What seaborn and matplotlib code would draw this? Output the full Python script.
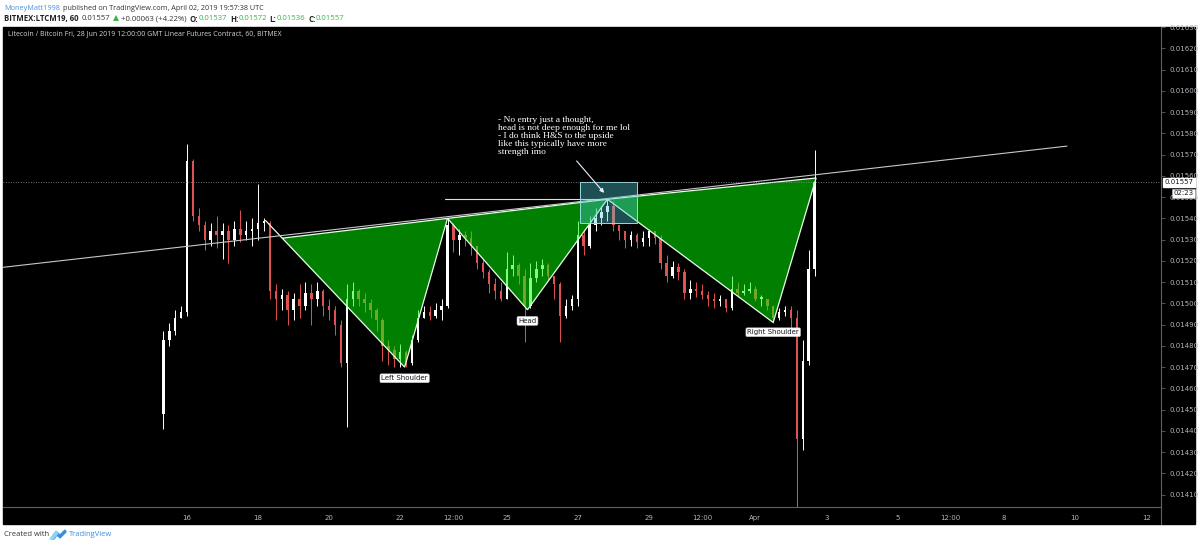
import numpy as np
import pandas as pd
import matplotlib
matplotlib.use("Agg")
import matplotlib.pyplot as plt
import matplotlib.dates as mdates
from matplotlib.patches import Polygon, Rectangle
from matplotlib.lines import Line2D
from matplotlib.transforms import IdentityTransform
import seaborn as sns

# LTCM19 (BitMEX), 4h candles
start_time = "2019-03-15 08:00"
first_open = 0.01448
closes = [0.01483, 0.01487, 0.01493, 0.01496, 0.01567, 0.01541, 0.01537, 0.01530, 0.01534, 0.01532,
          0.01534, 0.01530, 0.01535, 0.01532, 0.01534, 0.01535, 0.01538, 0.01538, 0.01506, 0.01502,
          0.01504, 0.01497, 0.01502, 0.01499, 0.01505, 0.01502, 0.01506, 0.01499, 0.01497, 0.01490,
          0.01472, 0.01502, 0.01506, 0.01502, 0.01500, 0.01497, 0.01492, 0.01480, 0.01478, 0.01474,
          0.01477, 0.01472, 0.01483, 0.01493, 0.01496, 0.01494, 0.01497, 0.01499, 0.01537, 0.01530,
          0.01532, 0.01531, 0.01527, 0.01519, 0.01515, 0.01509, 0.01506, 0.01502, 0.01516, 0.01518,
          0.01513, 0.01499, 0.01512, 0.01516, 0.01518, 0.01513, 0.01509, 0.01494, 0.01499, 0.01502,
          0.01532, 0.01527, 0.01537, 0.01540, 0.01543, 0.01546, 0.01537, 0.01534, 0.01530, 0.01532,
          0.01529, 0.01531, 0.01534, 0.01531, 0.01519, 0.01513, 0.01517, 0.01515, 0.01505, 0.01507,
          0.01506, 0.01504, 0.01502, 0.01501, 0.01502, 0.01498, 0.01507, 0.01505, 0.01506, 0.01507,
          0.01502, 0.01502, 0.01499, 0.01493, 0.01496, 0.01497, 0.01493, 0.01436, 0.01473, 0.01516,
          0.01557]
highs = [0.01487, 0.01491, 0.01497, 0.01499, 0.01575, 0.01568, 0.01545, 0.01539, 0.01538, 0.01541,
         0.01538, 0.01537, 0.01539, 0.01544, 0.01539, 0.01540, 0.01556, 0.01540, 0.01539, 0.01509,
         0.01507, 0.01506, 0.01505, 0.01509, 0.01510, 0.01509, 0.01510, 0.01507, 0.01502, 0.01499,
         0.01492, 0.01509, 0.01510, 0.01507, 0.01505, 0.01502, 0.01498, 0.01493, 0.01483, 0.01480,
         0.01481, 0.01478, 0.01485, 0.01497, 0.01499, 0.01499, 0.01500, 0.01502, 0.01540, 0.01538,
         0.01535, 0.01534, 0.01534, 0.01527, 0.01521, 0.01516, 0.01512, 0.01510, 0.01524, 0.01523,
         0.01519, 0.01516, 0.01519, 0.01520, 0.01521, 0.01519, 0.01513, 0.01510, 0.01502, 0.01504,
         0.01539, 0.01535, 0.01541, 0.01545, 0.01546, 0.01549, 0.01548, 0.01537, 0.01534, 0.01534,
         0.01533, 0.01534, 0.01535, 0.01534, 0.01532, 0.01523, 0.01520, 0.01519, 0.01516, 0.01511,
         0.01510, 0.01509, 0.01506, 0.01505, 0.01504, 0.01502, 0.01513, 0.01510, 0.01509, 0.01510,
         0.01508, 0.01504, 0.01502, 0.01499, 0.01498, 0.01499, 0.01499, 0.01497, 0.01483, 0.01525,
         0.01572]
lows = [0.01441, 0.01480, 0.01485, 0.01493, 0.01494, 0.01539, 0.01534, 0.01525, 0.01527, 0.01526,
        0.01521, 0.01519, 0.01527, 0.01529, 0.01530, 0.01527, 0.01530, 0.01534, 0.01502, 0.01492,
        0.01497, 0.01490, 0.01492, 0.01493, 0.01497, 0.01490, 0.01499, 0.01494, 0.01492, 0.01485,
        0.01470, 0.01442, 0.01499, 0.01499, 0.01496, 0.01493, 0.01487, 0.01473, 0.01471, 0.01470,
        0.01470, 0.01470, 0.01471, 0.01482, 0.01493, 0.01492, 0.01493, 0.01492, 0.01498, 0.01524,
        0.01523, 0.01527, 0.01523, 0.01516, 0.01512, 0.01505, 0.01502, 0.01501, 0.01502, 0.01513,
        0.01509, 0.01482, 0.01498, 0.01510, 0.01513, 0.01511, 0.01502, 0.01482, 0.01493, 0.01497,
        0.01499, 0.01523, 0.01526, 0.01534, 0.01537, 0.01539, 0.01534, 0.01530, 0.01526, 0.01527,
        0.01526, 0.01527, 0.01527, 0.01528, 0.01516, 0.01510, 0.01512, 0.01511, 0.01502, 0.01502,
        0.01503, 0.01502, 0.01499, 0.01498, 0.01499, 0.01496, 0.01497, 0.01503, 0.01504, 0.01505,
        0.01501, 0.01499, 0.01497, 0.01491, 0.01492, 0.01494, 0.01487, 0.01404, 0.01431, 0.01471,
        0.01513]

# inverse head & shoulders drawing: start, L shoulder, neck 1, head, neck 2, R shoulder, end
pattern_times = ["2019-03-18 05:00", "2019-03-22 03:00", "2019-03-23 08:00", "2019-03-25 14:00",
                 "2019-03-27 20:00", "2019-04-01 12:00", "2019-04-02 17:00"]
pattern_prices = [0.01539, 0.01470, 0.01540, 0.01497, 0.01549, 0.01491, 0.01559]
pattern_labels = ["Left Shoulder", "Head", "Right Shoulder"]

trend_times = ["2019-03-10 20:00", "2019-04-09 18:30"]
trend_prices = [0.01517, 0.01574]
hline_times = ["2019-03-23 06:00", "2019-03-27 20:30"]
hline_price = 0.01549
box_times = ["2019-03-27 01:30", "2019-03-28 16:00"]
box_prices = [0.01538, 0.01557]
arrow_times = ["2019-03-26 22:00", "2019-03-27 19:00"]
arrow_prices = [0.01568, 0.01551]
note_time = "2019-03-24 18:00"
note_price = 0.01588
note_text = ("- No entry just a thought,\nhead is not deep enough for me lol\n"
             "- I do think H&S to the upside\nlike this typically have more\nstrength imo")

last_price = 0.01557
countdown = "02:23"
x_tick_dates = ["2019-03-16", "2019-03-18", "2019-03-20", "2019-03-22", "2019-03-23 12:00",
                "2019-03-25", "2019-03-27", "2019-03-29", "2019-03-30 12:00", "2019-04-01",
                "2019-04-03", "2019-04-05", "2019-04-06 12:00", "2019-04-08", "2019-04-10",
                "2019-04-12"]
x_tick_labels = ["16", "18", "20", "22", "12:00", "25", "27", "29", "12:00", "Apr",
                 "3", "5", "12:00", "8", "10", "12"]
y_ticks = np.round(np.arange(0.01410, 0.016301, 0.0001), 5)

sns.set_theme(style="dark", rc={"axes.facecolor": "black", "figure.facecolor": "white"})
plt.rcParams["font.family"] = ["DejaVu Sans"]

def dnum(s):
    return mdates.date2num(pd.Timestamp(s))

fig = plt.figure(figsize=(12, 5.46), dpi=100)
ident = IdentityTransform()
fig.add_artist(Rectangle((3 / 1200, 22 / 546), 1192 / 1200, 497 / 546,
                         transform=fig.transFigure, color="black", zorder=-5))
ax = fig.add_axes([0.0025, 0.0714, 0.965, 0.879])
ax.set_facecolor("black")
ax.grid(False)

# candles
times = mdates.date2num(pd.date_range(start_time, periods=len(closes), freq="4h"))
c = np.array(closes)
o = np.array([first_open] + closes[:-1])
up = c >= o
cols = np.where(up, "#ffffff", "#e0524f")
ax.vlines(times, lows, highs, colors=cols, lw=0.7, zorder=2)
ax.bar(times, np.maximum(np.abs(c - o), 0.000008), bottom=np.minimum(o, c), width=0.07,
       color=cols, linewidth=0, zorder=3)

# head & shoulders
pt = np.array([dnum(s) for s in pattern_times])
pp = np.array(pattern_prices)
slope = (pp[4] - pp[2]) / (pt[4] - pt[2])
s1 = (pp[1] - pp[0]) / (pt[1] - pt[0])
xi = (pp[2] - slope * pt[2] - pp[0] + s1 * pt[0]) / (s1 - slope)
yi = pp[0] + s1 * (xi - pt[0])
tris = [[(xi, yi), (pt[1], pp[1]), (pt[2], pp[2])],
        [(pt[2], pp[2]), (pt[3], pp[3]), (pt[4], pp[4])],
        [(pt[4], pp[4]), (pt[5], pp[5]), (pt[6], pp[6])]]
for tri in tris:
    ax.add_patch(Polygon(tri, closed=True, facecolor="#00ff00", alpha=0.5, edgecolor="none", zorder=4))
    ax.add_patch(Polygon(tri, closed=True, facecolor="none", edgecolor="#e8ffe8", lw=0.9, zorder=5))
ax.plot([pt[0], xi], [pp[0], yi], color="#e8ffe8", lw=0.9, zorder=5)
for lab, i, off in zip(pattern_labels, [1, 3, 5], [-8, -8, -7]):
    ax.annotate(lab, (pt[i], pp[i]), xytext=(0, off), textcoords="offset points",
                ha="center", va="center", fontsize=5, color="#131722", zorder=8,
                bbox=dict(boxstyle="round,pad=0.2,rounding_size=0.2", fc="white", ec="#cccccc", lw=0.4))

# trend line, levels, box, arrow, note
ax.plot([dnum(s) for s in trend_times], trend_prices, color="#c8c8c8", lw=0.8, zorder=6)
ax.plot([dnum(s) for s in hline_times], [hline_price] * 2, color="#e0e0e0", lw=0.8, zorder=6)
bx = [dnum(s) for s in box_times]
ax.add_patch(Rectangle((bx[0], box_prices[0]), bx[1] - bx[0], box_prices[1] - box_prices[0],
                       facecolor="#50d0d8", alpha=0.38, edgecolor="none", zorder=6))
ax.add_patch(Rectangle((bx[0], box_prices[0]), bx[1] - bx[0], box_prices[1] - box_prices[0],
                       facecolor="none", edgecolor="#8fe0e0", lw=0.7, zorder=6))
ax.annotate("", xy=(dnum(arrow_times[1]), arrow_prices[1]), xytext=(dnum(arrow_times[0]), arrow_prices[0]),
            arrowprops=dict(arrowstyle="-|>", color="#e8f4ff", lw=0.8, mutation_scale=6), zorder=7)
ax.text(dnum(note_time), note_price, note_text, color="white", fontsize=6.8, family="Liberation Serif",
        va="top", ha="left", linespacing=1.0, zorder=7)

ax.axhline(last_price, color="#9598a1", lw=0.6, ls=(0, (1, 2)), zorder=6)

# axes styling
ax.set_xlim(dnum("2019-03-10 19:40"), dnum("2019-04-12 10:00"))
ax.set_ylim(0.014042, 0.016298)
ax.set_xticks([dnum(s) for s in x_tick_dates])
ax.set_xticklabels(x_tick_labels)
ax.yaxis.tick_right()
ax.set_yticks(y_ticks)
ax.set_yticklabels([f"{v:.5f}" for v in y_ticks])
ax.tick_params(axis="both", colors="#5d606b", labelcolor="#b2b5be", labelsize=5, length=3, width=0.6,
               direction="out")
ax.tick_params(axis="x", pad=2.5)
ax.tick_params(axis="y", pad=3)
for side in ["top", "left"]:
    ax.spines[side].set_visible(False)
for side in ["right", "bottom"]:
    ax.spines[side].set_visible(True)
    ax.spines[side].set_color("#5d606b")
    ax.spines[side].set_linewidth(0.8)
fig.add_artist(Line2D([1161, 1161], [22, 40], transform=ident, color="#5d606b", lw=0.8))

ax.annotate(f"{last_price:.5f}", (1.0, last_price), xycoords=("axes fraction", "data"),
            xytext=(2.5, 0), textcoords="offset points", ha="left", va="center", fontsize=5,
            color="#131722", zorder=10, annotation_clip=False,
            bbox=dict(boxstyle="square,pad=0.25", fc="white", ec="white"))
ax.annotate(countdown, (1.0, last_price), xycoords=("axes fraction", "data"),
            xytext=(9, -8), textcoords="offset points", ha="left", va="center", fontsize=5,
            color="#131722", zorder=10, annotation_clip=False,
            bbox=dict(boxstyle="square,pad=0.2", fc="white", ec="#bbbbbb", lw=0.4))

fig.text(8, 512, "Litecoin / Bitcoin Fri, 28 Jun 2019 12:00:00 GMT Linear Futures Contract, 60, BITMEX",
         transform=ident, color="#d1d4dc", fontsize=5, family="Open Sans", va="center")

# header / footer runs
green = "#3cb44b"
dark = "#333333"

def runs(x, y, parts, size=5.2):
    r = fig.canvas.get_renderer()
    for s, color, weight, gap in parts:
        t = fig.text(x, y, s, transform=ident, color=color, fontsize=size, fontweight=weight,
                     family=["Open Sans", "DejaVu Sans"], va="center", ha="left")
        x = t.get_window_extent(r).x1 + gap

runs(4, 538, [("MoneyMatt1998", "#4a90d9", "normal", 3),
              ("published on TradingView.com, April 02, 2019 19:57:38 UTC", dark, "normal", 0)])
runs(4, 527, [("BITMEX:LTCM19, 60", "#222222", "bold", 3), (f"{last_price:.5f}", dark, "normal", 3),
              ("▲", green, "normal", 2), ("+0.00063 (+4.22%)", dark, "normal", 3),
              ("O:", "#222222", "bold", 0), ("0.01537", green, "normal", 3),
              ("H:", "#222222", "bold", 0), ("0.01572", green, "normal", 3),
              ("L:", "#222222", "bold", 0), ("0.01536", green, "normal", 3),
              ("C:", "#222222", "bold", 0), (f"{last_price:.5f}", green, "normal", 0)], size=5.6)
runs(4, 11, [("Created with", "#333333", "normal", 20), ("TradingView", "#3c8fdd", "normal", 0)], size=5.5)
fig.add_artist(Polygon([(52, 7), (57, 14), (60, 11), (65, 16), (66, 14), (60, 8), (57, 11), (54, 7)],
                       closed=True, transform=ident, color="#3c8fdd"))
fig.add_artist(Polygon([(50, 7), (56, 15), (58, 13), (53, 7)], closed=True, transform=ident, color="#8fd3f4"))

fig.savefig("out.png", dpi=100, facecolor="white")
